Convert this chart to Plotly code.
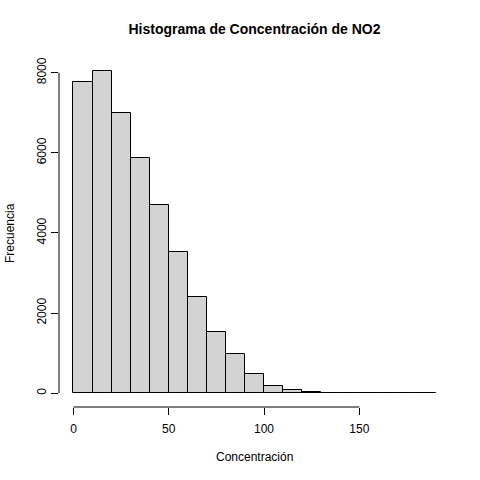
import plotly.graph_objects as go

# Histogram bins (width 10) and counts
bin_edges = [0, 10, 20, 30, 40, 50, 60, 70, 80, 90, 100,
             110, 120, 130, 140, 150, 160, 170, 180, 190]
counts = [7760, 8035, 6985, 5860, 4685, 3535, 2410, 1535, 985, 485,
          185, 85, 38, 15, 5, 3, 1, 1, 1]
x_ticks = [0, 50, 100, 150]
y_ticks = [0, 2000, 4000, 6000, 8000]

centers = [(a + b) / 2 for a, b in zip(bin_edges[:-1], bin_edges[1:])]
font = "Liberation Sans, Arial, sans-serif"

fig = go.Figure(go.Bar(
    x=centers, y=counts, width=10,
    marker=dict(color="#D3D3D3", line=dict(color="black", width=1)),
))

fig.update_layout(
    width=480, height=480,
    margin=dict(l=59, r=30, t=59, b=73),
    paper_bgcolor="white", plot_bgcolor="white",
    showlegend=False, bargap=0,
    font=dict(family=font, size=12, color="black"),
    title=dict(text="<b>Histograma de Concentración de NO2</b>",
               x=0.5, xref="paper", xanchor="center",
               y=1 - 29 / 480, yanchor="middle",
               font=dict(size=14, family=font)),
    xaxis=dict(range=[-7.6, 197.6], tickvals=x_ticks, ticks="outside",
               ticklen=7, tickcolor="black", showgrid=False, zeroline=False,
               showline=False, automargin=False, ticklabelstandoff=4),
    yaxis=dict(range=[-347, 8342], tickvals=y_ticks, ticks="outside",
               ticklen=7, tickcolor="black", tickangle=-90, showgrid=False,
               zeroline=False, showline=False, automargin=False),
)

# R-style axis lines that only span the tick range
fig.add_shape(type="line", xref="x", yref="paper", x0=x_ticks[0],
              x1=x_ticks[-1], y0=0, y1=0, line=dict(color="black", width=1))
fig.add_shape(type="line", xref="paper", yref="y", x0=0, x1=0,
              y0=y_ticks[0], y1=y_ticks[-1], line=dict(color="black", width=1))

fig.add_annotation(text="Concentración", xref="paper", yref="paper",
                   x=0.5, y=0, yshift=-50, showarrow=False,
                   xanchor="center", yanchor="middle")
fig.add_annotation(text="Frecuencia", xref="paper", yref="paper",
                   x=0, y=0.5, xshift=-49, showarrow=False, textangle=-90,
                   xanchor="center", yanchor="middle")

fig.write_html("out.html", config={"displayModeBar": False},
               post_script="document.body.style.margin='0';")
